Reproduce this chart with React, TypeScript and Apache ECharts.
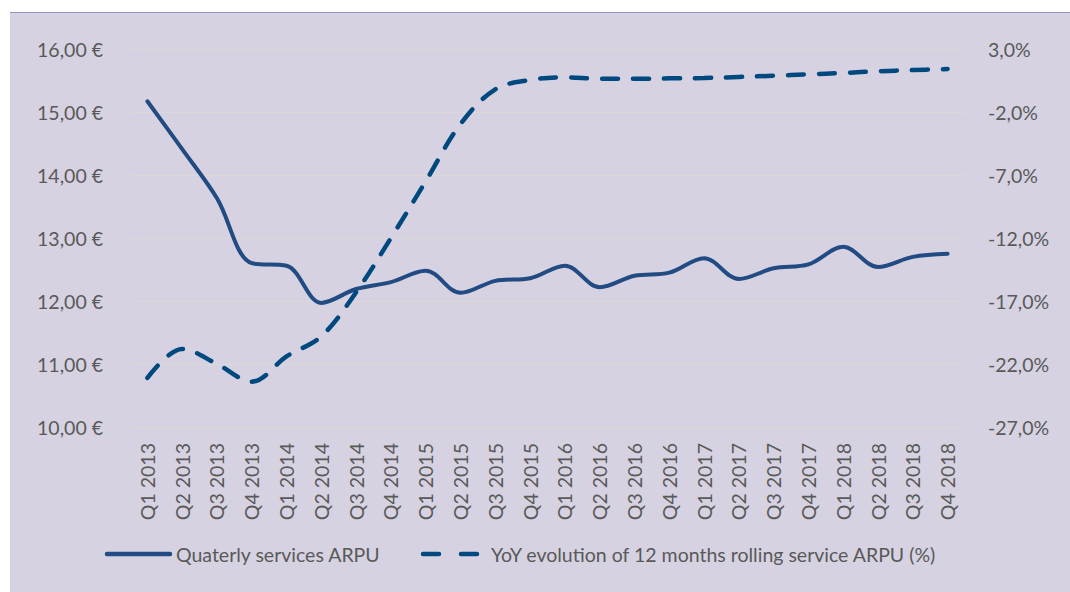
import React, { useEffect, useRef } from "react";
import * as echarts from "echarts";

const categories = [
  "Q1 2013", "Q2 2013", "Q3 2013", "Q4 2013",
  "Q1 2014", "Q2 2014", "Q3 2014", "Q4 2014",
  "Q1 2015", "Q2 2015", "Q3 2015", "Q4 2015",
  "Q1 2016", "Q2 2016", "Q3 2016", "Q4 2016",
  "Q1 2017", "Q2 2017", "Q3 2017", "Q4 2017",
  "Q1 2018", "Q2 2018", "Q3 2018", "Q4 2018",
];

const arpu = [
  15.17, 14.41, 13.63, 12.6,
  12.56, 11.97, 12.19, 12.3,
  12.48, 12.13, 12.32, 12.36,
  12.56, 12.22, 12.4, 12.45,
  12.68, 12.35, 12.52, 12.58,
  12.86, 12.54, 12.7, 12.75,
];

const yoy = [
  -23.1, -20.8, -22.0, -23.4,
  -21.4, -19.8, -16.3, -12.0,
  -7.5, -2.95, -0.2, 0.54,
  0.75, 0.64, 0.64, 0.67,
  0.7, 0.78, 0.88, 0.99,
  1.1, 1.23, 1.33, 1.41,
];

const seriesNames = [
  "Quaterly services ARPU",
  "YoY evolution of 12 months rolling service ARPU (%)",
];

const TEXT = "#595959";
const FONT = "Lato, 'Open Sans', sans-serif";
const FS = 19.5;
const SOLID = "#214b82";
const DASH = "#00497e";

export default function App() {
  const ref = useRef<HTMLDivElement>(null);
  useEffect(() => {
    if (!ref.current) return;
    const chart = echarts.init(ref.current, undefined, { renderer: "svg" });
    chart.setOption({
      animation: false,
      backgroundColor: "#d6d2e1",
      textStyle: { fontFamily: FONT, color: TEXT },
      grid: { left: 120, right: 105, top: 36, bottom: 166 },
      graphic: [
        {
          type: "line",
          shape: { x1: 97, y1: 541, x2: 160, y2: 541 },
          style: { stroke: SOLID, lineWidth: 4.5, lineCap: "round" },
        },
        {
          type: "text",
          x: 166,
          y: 541,
          style: {
            text: seriesNames[0],
            fill: TEXT,
            font: `${FS}px ${FONT}`,
            verticalAlign: "middle",
          },
        },
        {
          type: "line",
          shape: { x1: 413, y1: 541, x2: 472, y2: 541 },
          style: {
            stroke: DASH,
            lineWidth: 4.5,
            lineCap: "round",
            lineDash: [16, 22],
          },
        },
        {
          type: "text",
          x: 481,
          y: 541,
          style: {
            text: seriesNames[1],
            fill: TEXT,
            font: `${FS}px ${FONT}`,
            verticalAlign: "middle",
          },
        },
      ],
      xAxis: {
        type: "category",
        data: categories,
        boundaryGap: true,
        axisLine: { show: false },
        axisTick: { show: false },
        axisLabel: {
          rotate: 90,
          margin: 16,
          fontSize: FS,
          color: TEXT,
          fontFamily: FONT,
          interval: 0,
        },
      },
      yAxis: [
        {
          type: "value",
          min: 10,
          max: 16,
          interval: 1,
          axisLine: { show: false },
          axisTick: { show: false },
          splitLine: { lineStyle: { color: "#d9d9d9", width: 1 } },
          axisLabel: {
            margin: 27,
            fontSize: FS,
            color: TEXT,
            fontFamily: FONT,
            formatter: (v: number) => v.toFixed(2).replace(".", ",") + " €",
          },
        },
        {
          type: "value",
          min: -27,
          max: 3,
          interval: 5,
          axisLine: { show: false },
          axisTick: { show: false },
          splitLine: { show: false },
          axisLabel: {
            margin: 23,
            fontSize: FS,
            color: TEXT,
            fontFamily: FONT,
            formatter: (v: number) => v.toFixed(1).replace(".", ",") + "%",
          },
        },
      ],
      series: [
        {
          name: seriesNames[0],
          type: "line",
          yAxisIndex: 0,
          data: arpu,
          smooth: 0.35,
          symbol: "none",
          lineStyle: { color: SOLID, width: 4, cap: "round" },
          itemStyle: { color: SOLID },
        },
        {
          name: seriesNames[1],
          type: "line",
          yAxisIndex: 1,
          data: yoy,
          smooth: 0.35,
          symbol: "none",
          lineStyle: {
            color: DASH,
            width: 4.5,
            type: [16, 15],
            cap: "round",
          },
          itemStyle: { color: DASH },
        },
      ],
    });
    return () => chart.dispose();
  }, []);
  return (
    <div
      style={{
        position: "absolute",
        left: 0,
        top: 0,
        width: 1070,
        height: 592,
        background: "#ffffff",
        overflow: "hidden",
      }}
    >
      <div
        style={{
          position: "absolute",
          left: 10,
          top: 12,
          width: 1060,
          height: 580,
          borderTop: "1px solid #9a90bc",
        }}
      >
        <div ref={ref} style={{ width: 1060, height: 580 }} />
      </div>
    </div>
  );
}
